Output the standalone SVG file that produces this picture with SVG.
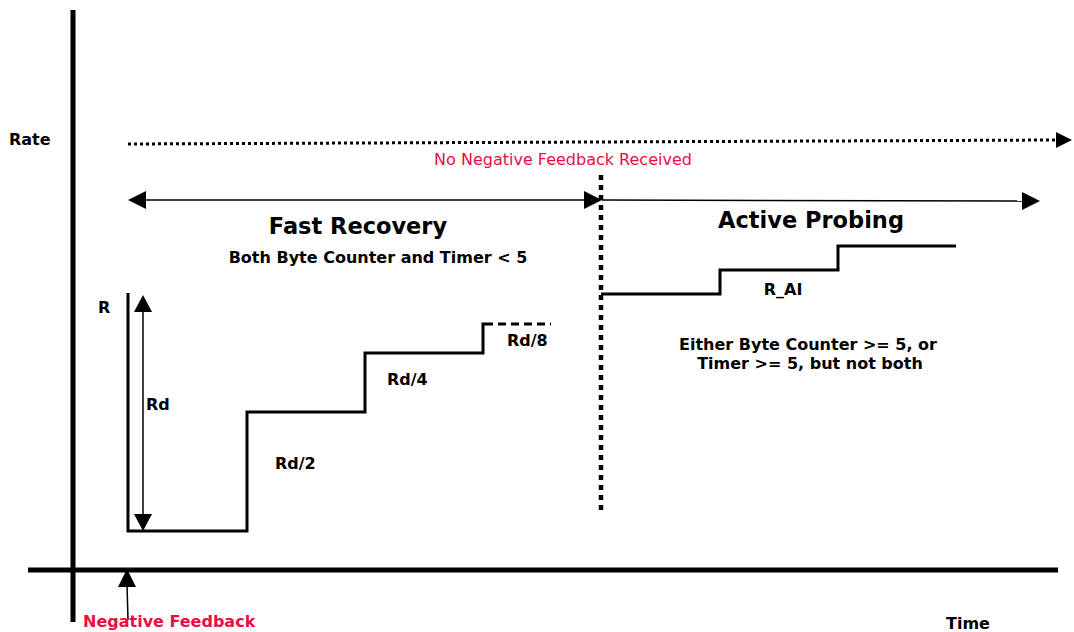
<svg xmlns="http://www.w3.org/2000/svg" width="1074" height="632" viewBox="0 0 1074 632">
<style>
text{font-family:"DejaVu Sans",sans-serif;fill:#000}
.b{font-weight:bold;font-size:16px}
.t{font-weight:bold;font-size:22.5px}
.red{fill:#ef0a45}
.ax{stroke:#000;stroke-width:5;fill:none}
.ln{stroke:#000;stroke-width:3;fill:none}
.thin{stroke:#000;stroke-width:1.5;fill:none}
</style>
<g id="axes">
<line class="ax" x1="73" y1="10" x2="73" y2="622"/>
<line class="ax" x1="28" y1="570" x2="1058" y2="570"/>
<text class="b" x="9" y="145">Rate</text>
<text class="b" x="946" y="629">Time</text>
</g>
<g id="connectors">
<line x1="128" y1="144" x2="1056" y2="140" stroke="#000" stroke-width="3" stroke-dasharray="3,3"/>
<path d="M1056,132 L1072,140 L1056,148 Z" fill="#000"/>
<line class="thin" x1="146" y1="200" x2="586" y2="200"/>
<path d="M128,200 L146,191 L146,209 Z" fill="#000"/>
<path d="M602,200 L584,191 L584,209 Z" fill="#000"/>
<line class="thin" x1="602" y1="200" x2="1024" y2="201"/>
<path d="M1040,201 L1022,192 L1022,210 Z" fill="#000"/>
<line x1="601" y1="175" x2="601" y2="515" stroke="#000" stroke-width="4.5" stroke-dasharray="5,5"/>
<line class="thin" x1="143" y1="310" x2="143" y2="516"/>
<path d="M143,295 L134,312 L152,312 Z" fill="#000"/>
<path d="M143,531 L134,514 L152,514 Z" fill="#000"/>
<line class="thin" x1="128" y1="620" x2="127" y2="584"/>
<path d="M127,569 L118,587 L136,587 Z" fill="#000"/>
</g>
<g id="fast-recovery">
<path class="ln" d="M128,293 L128,531 L247,531 L247,412 L365,412 L365,353 L483,353 L483,324 L485,324"/>
<line x1="485" y1="324" x2="551" y2="324" stroke="#000" stroke-width="3" stroke-dasharray="8,5"/>
<text class="t" x="358" y="234" text-anchor="middle">Fast Recovery</text>
<text class="b" x="378" y="263" text-anchor="middle">Both Byte Counter and Timer &lt; 5</text>
<text class="b" x="98" y="313">R</text>
<text class="b" x="146" y="410">Rd</text>
<text class="b" x="275" y="469">Rd/2</text>
<text class="b" x="387" y="385">Rd/4</text>
<text class="b" x="507" y="346">Rd/8</text>
</g>
<g id="active-probing">
<path class="ln" d="M601,294 L720,294 L720,270 L838,270 L838,246 L956,246"/>
<text class="t" x="811" y="228" text-anchor="middle">Active Probing</text>
<text class="b" x="783" y="295" text-anchor="middle">R_AI</text>
<text class="b" x="808" y="350" text-anchor="middle">Either Byte Counter &gt;= 5, or</text>
<text class="b" x="810" y="369" text-anchor="middle">Timer &gt;= 5, but not both</text>
</g>
<g id="labels">
<text class="red" x="563" y="165" text-anchor="middle" font-size="16">No Negative Feedback Received</text>
<text class="b red" x="83" y="627">Negative Feedback</text>
</g>
</svg>
